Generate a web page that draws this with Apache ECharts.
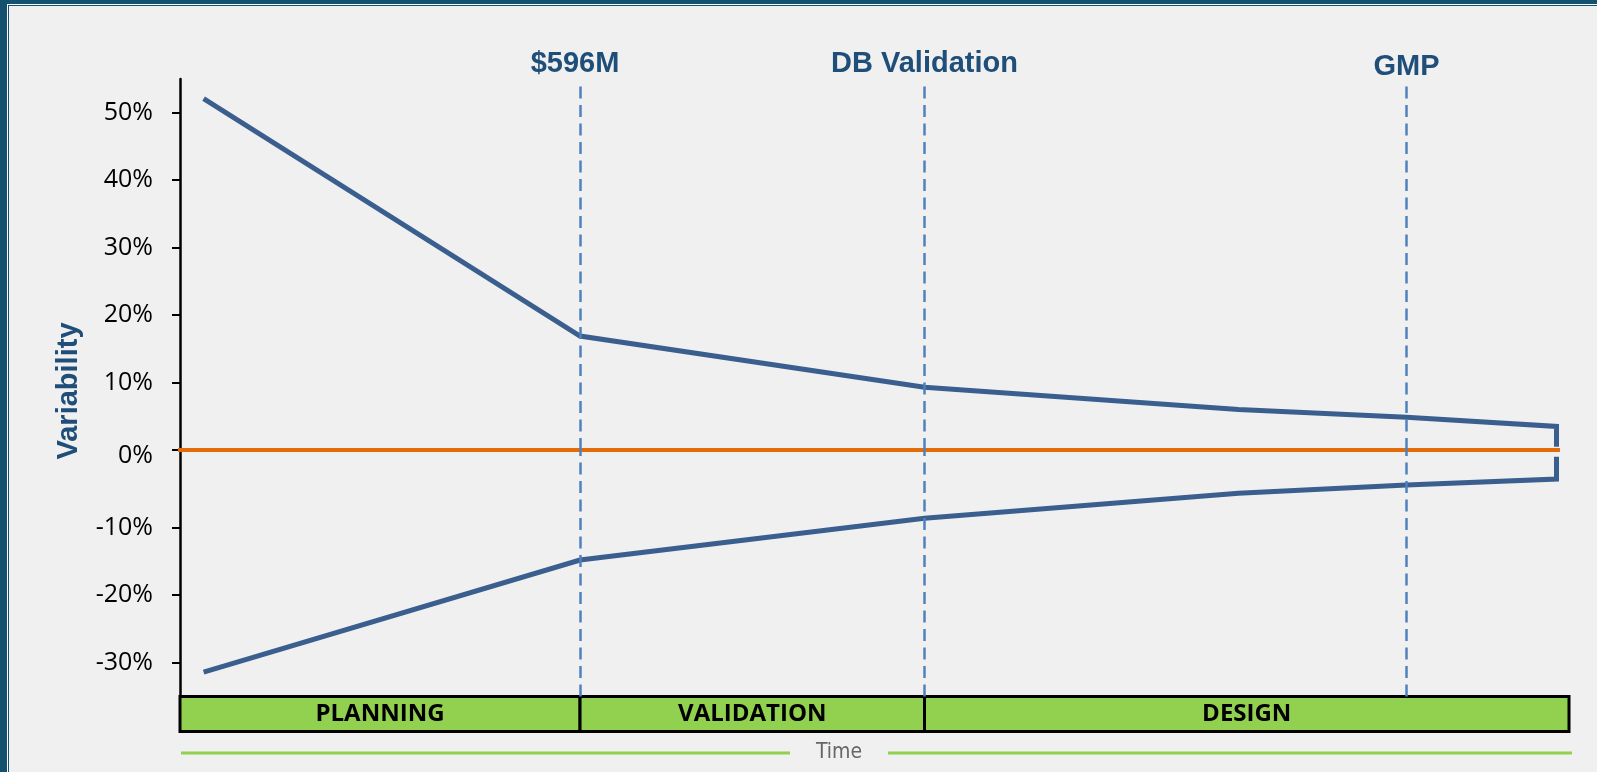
<!DOCTYPE html>
<html>
<head>
<meta charset="utf-8">
<title>Variability over time</title>
<script src="https://cdn.jsdelivr.net/npm/echarts@6/dist/echarts.min.js"></script>
<style>
  html, body { margin: 0; padding: 0; background: #f0f0f0; }
  .frame { position: absolute; background: #14516f; }
  #chart { position: absolute; left: 0; top: 0; width: 1597px; height: 772px; }
</style>
</head>
<body>
<!-- window frame (left + top edges) -->
<div class="frame" style="left:0;top:0;width:7px;height:772px"></div>
<div class="frame" style="left:0;top:0;width:1597px;height:4px"></div>
<div style="position:absolute;left:7px;top:4px;width:1px;height:768px;background:#fff"></div>
<div style="position:absolute;left:7px;top:4px;width:1590px;height:1px;background:#fff"></div>
<div class="frame" style="left:8px;top:5px;width:1px;height:767px"></div>
<div class="frame" style="left:8px;top:5px;width:1589px;height:1px"></div>
<div id="chart"></div>
<script>
// time position (0..100 across the phase bar) of each point
const timeX = [1.7, 28.8, 53.6, 76.2, 88.3, 99.1]
const upperPct = [52.1, 16.9, 9.3, 6.0, 4.85, 3.5]
const lowerPct = [-31.4, -14.8, -8.6, -4.9, -3.7, -2.8]
const connectorEnd = 0.5

const milestoneX = [28.8, 53.6, 88.3]
const milestoneLabels = ['$596M', 'DB Validation', 'GMP']

const phaseNames = ['PLANNING', 'VALIDATION', 'DESIGN']
const phaseBounds = [0, 28.8, 53.6, 100]

const upperTicks = [0, 10, 20, 30, 40, 50]
const lowerTicks = [-30, -20, -10]
const zeroSpan = [-0.65, 99.35]

const blue = '#3a5f8e'
const navy = '#1f4e79'
const green = '#92d050'

const chart = echarts.init(document.getElementById('chart'))

const xAx = (i) => ({ type: 'value', gridIndex: i, min: 0, max: 100, show: false })

const yAx = (i, min, max, ticks) => ({
  type: 'value',
  gridIndex: i,
  min: min,
  max: max,
  splitLine: { show: false },
  axisLine: { show: true, lineStyle: { color: '#000', width: 2.5 } },
  axisTick: {
    show: !!ticks,
    customValues: ticks || [],
    length: 8,
    lineStyle: { color: '#000', width: 2 }
  },
  axisLabel: {
    show: !!ticks,
    customValues: ticks || [],
    // the 0% label sits a little below its tick in the original
    formatter: (v) => (v === 0 ? '{z|0%}' : v + '%'),
    rich: { z: { padding: [12, 0, 0, 0], fontSize: 25, color: '#000' } },
    margin: 27,
    color: '#000',
    fontSize: 25,
    fontFamily: '"Open Sans", "Noto Sans", sans-serif'
  }
})

const milestoneLine = (from, to, withLabel) => ({
  silent: true,
  symbol: 'none',
  lineStyle: { color: '#4f81bd', width: 2.5, type: [12, 6.5] },
  label: { show: false },
  data: milestoneX.map((x, i) => [
    { coord: [x, from] },
    {
      coord: [x, to],
      label: withLabel ? {
        show: true,
        position: 'end',
        distance: i === 2 ? 1 : 4,
        offset: i === 0 ? [-5, 0] : [0, 0],
        formatter: milestoneLabels[i],
        color: navy,
        fontSize: 29,
        fontWeight: 'bold',
        fontFamily: '"Liberation Sans", Arial, sans-serif'
      } : { show: false }
    }
  ])
})

const option = {
  animation: false,
  grid: [
    { left: 180, right: 28, top: 79, height: 371 },
    { left: 180, right: 28, top: 450, height: 246.5 },
    { left: 180, right: 28, top: 696.5, height: 35 }
  ],
  xAxis: [xAx(0), xAx(1), xAx(2)],
  yAxis: [
    yAx(0, 0, 55, upperTicks),
    yAx(1, -35, 1.5, lowerTicks),
    yAx(2, 0, 1, null)
  ],
  graphic: [
    {
      type: 'text', x: 69, y: 391, rotation: Math.PI / 2,
      style: {
        text: 'Variability', align: 'center', verticalAlign: 'middle',
        font: 'bold 29px "Liberation Sans", Arial, sans-serif', fill: navy
      }
    },
    {
      type: 'line', shape: { x1: 181, y1: 753, x2: 790, y2: 753 },
      style: { stroke: green, lineWidth: 3 }
    },
    {
      type: 'line', shape: { x1: 888, y1: 753, x2: 1572, y2: 753 },
      style: { stroke: green, lineWidth: 3 }
    },
    {
      type: 'text', x: 839, y: 753,
      style: {
        text: 'Time', align: 'center', verticalAlign: 'middle',
        font: '21px "Liberation Sans Narrow", "DejaVu Sans Condensed", Arial, sans-serif',
        fill: '#666'
      }
    }
  ],
  series: [
    {
      name: 'zero',
      type: 'line',
      xAxisIndex: 0, yAxisIndex: 0,
      clip: false,
      symbol: 'none',
      lineStyle: { color: '#e36c09', width: 4 },
      data: zeroSpan.map(x => [x, 0]),
      markLine: milestoneLine(0, 54.5, true),
      z: 3
    },
    {
      name: 'upper',
      type: 'line',
      xAxisIndex: 0, yAxisIndex: 0,
      clip: false,
      symbol: 'none',
      lineStyle: { color: blue, width: 5, join: 'miter', cap: 'butt' },
      data: timeX.map((x, i) => [x, upperPct[i]]).concat([[timeX[timeX.length - 1], connectorEnd]]),
      z: 2
    },
    {
      name: 'lower',
      type: 'line',
      xAxisIndex: 1, yAxisIndex: 1,
      clip: false,
      symbol: 'none',
      lineStyle: { color: blue, width: 5, join: 'miter', cap: 'butt' },
      data: timeX.map((x, i) => [x, lowerPct[i]]).concat([[timeX[timeX.length - 1], connectorEnd]]),
      markLine: milestoneLine(-35, 1.5, false),
      z: 2
    },
    {
      name: 'phases',
      type: 'custom',
      xAxisIndex: 2, yAxisIndex: 2,
      clip: false,
      data: phaseNames.map((n, i) => [phaseBounds[i], phaseBounds[i + 1]]),
      renderItem: (params, api) => {
        const a = api.coord([api.value(0), 1])
        const b = api.coord([api.value(1), 0])
        return {
          type: 'group',
          children: [
            {
              type: 'rect',
              shape: { x: a[0], y: a[1], width: b[0] - a[0], height: b[1] - a[1] },
              style: { fill: green, stroke: '#000', lineWidth: 3 }
            },
            {
              type: 'text',
              style: {
                text: phaseNames[params.dataIndex],
                x: (a[0] + b[0]) / 2,
                y: (a[1] + b[1]) / 2,
                align: 'center',
                verticalAlign: 'middle',
                font: 'bold 24px "Open Sans", "Noto Sans", sans-serif',
                fill: '#000'
              }
            }
          ]
        }
      }
    }
  ]
}

chart.setOption(option)
</script>
</body>
</html>
